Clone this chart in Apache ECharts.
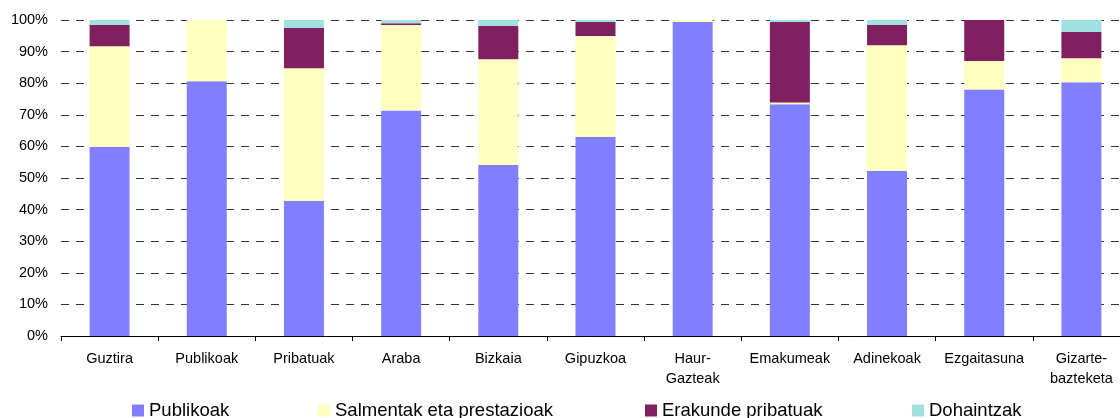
<!DOCTYPE html>
<html>
<head>
<meta charset="utf-8">
<script src="https://cdn.jsdelivr.net/npm/echarts@6/dist/echarts.min.js"></script>
<style>html,body{margin:0;padding:0;background:#fff;}#c{width:1120px;height:418px;}</style>
</head>
<body>
<div id="c"></div>
<script>
const categories = ['Guztira','Publikoak','Pribatuak','Araba','Bizkaia','Gipuzkoa','Haur-\nGazteak','Emakumeak','Adinekoak','Ezgaitasuna','Gizarte-\nbazteketa'];
const seriesNames = ['Publikoak','Salmentak eta prestazioak','Erakunde pribatuak','Dohaintzak'];
const publikoak  = [59.8, 80.6, 42.8, 71.4, 54.1, 63.0, 99.4, 73.3, 52.2, 78.0, 80.3];
const salmentak  = [31.9, 19.4, 41.9, 27.0, 33.5, 31.9,  0.6,  0.6, 39.8,  9.0,  7.6];
const erakunde   = [ 6.7,  0.0, 12.8,  0.6, 10.5,  4.5,  0.0, 25.5,  6.4, 13.0,  8.3];
const dohaintzak = [ 1.6,  0.0,  2.5,  1.0,  1.9,  0.6,  0.0,  0.6,  1.6,  0.0,  3.8];
const yTicks = [0,10,20,30,40,50,60,70,80,90,100];

const colors = ['#8080FF','#FFFFC0','#802060','#A0E0E0'];
const values = [publikoak, salmentak, erakunde, dohaintzak];
const font = 'Liberation Sans, Arial, sans-serif';
const legendLeft = [132, 318, 645, 912];

const chart = echarts.init(document.getElementById('c'), null, {renderer:'canvas'});
chart.setOption({
  animation: false,
  backgroundColor: '#fff',
  color: colors,
  grid: {left: 61, width: 1069, top: 20, height: 316, containLabel: false, outerBoundsMode: 'none'},
  legend: seriesNames.map((n, i) => ({
    left: legendLeft[i], top: 401, padding: 0,
    itemWidth: 12, itemHeight: 12,
    icon: 'rect',
    textStyle: {fontFamily: font, fontSize: 18.5, color: '#000'},
    data: [n]
  })),
  xAxis: {
    type: 'category',
    data: categories,
    axisLine: {lineStyle: {color: '#000', width: 1}},
    axisTick: {show: true, length: 5, lineStyle: {color: '#000'}},
    axisLabel: {fontFamily: font, fontSize: 14.5, color: '#000', margin: 13, lineHeight: 20, interval: 0}
  },
  yAxis: {
    type: 'value',
    min: yTicks[0], max: yTicks[yTicks.length-1], interval: 10,
    axisLine: {show: false},
    axisTick: {show: false},
    axisLabel: {fontFamily: font, fontSize: 14.5, color: '#000', margin: 13, formatter: v => v + '%'},
    splitLine: {lineStyle: {color: '#333', width: 1, type: [8, 7]}}
  },
  series: values.map((d, i) => ({
    name: seriesNames[i],
    type: 'bar',
    stack: 'total',
    barWidth: 40,
    data: d,
    itemStyle: {color: colors[i]}
  }))
});
</script>
</body>
</html>
